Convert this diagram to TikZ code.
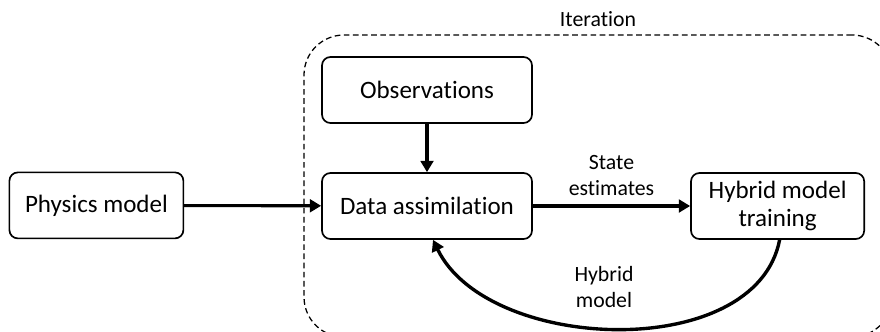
\documentclass[tikz,border=0pt]{standalone}
\usepackage{fontspec}
\setmainfont{Carlito}[Ligatures=NoCommon]
\usetikzlibrary{arrows.meta}

\begin{document}
\begin{tikzpicture}[
    block/.style={draw, line width=1.2pt, rounded corners=6pt, minimum height=1.65cm,
      align=center, font=\fontsize{17.8}{20.5}\selectfont},
    lbl/.style={align=center, font=\fontsize{15.5}{18.4}\selectfont},
    flow/.style={line width=2.2pt, -{Triangle[length=8pt,width=9pt]}}
  ]
    \useasboundingbox (0,0) rectangle (22,8.275);

    \node[draw, dashed, dash pattern=on 4pt off 2.5pt, line width=0.9pt, rounded corners=1cm,
      minimum width=14.7cm, minimum height=7.55cm,
      label={[lbl, label distance=2pt]above:Iteration}] (iter) at (14.95,3.625) {};

    \node[block, minimum width=4.35cm] (phys) at (2.41,3.14) {Physics model};
    \node[block, minimum width=5.25cm] (da) at (10.675,3.125) {Data assimilation};
    \node[block, minimum width=5.25cm] (obs) at (10.675,6.025) {Observations};
    \node[block, minimum width=4.33cm] (hyb) at (19.44,3.125) {Hybrid model\\training};

    \draw[flow] (phys) -- (da);
    \draw[flow] (obs) -- (da);
    \draw[flow] (da) -- node[lbl, above=3pt] (est) {State\\estimates} (hyb);

    \draw[flow, line width=2.4pt] ([xshift=0.05cm]hyb.south) .. controls (18.9,-0.8) and (12.2,-0.55) .. ([xshift=0.15cm]da.south);
    \node[lbl] (hmod) at (15.1,1.1) {Hybrid\\model};
\end{tikzpicture}
\end{document}
